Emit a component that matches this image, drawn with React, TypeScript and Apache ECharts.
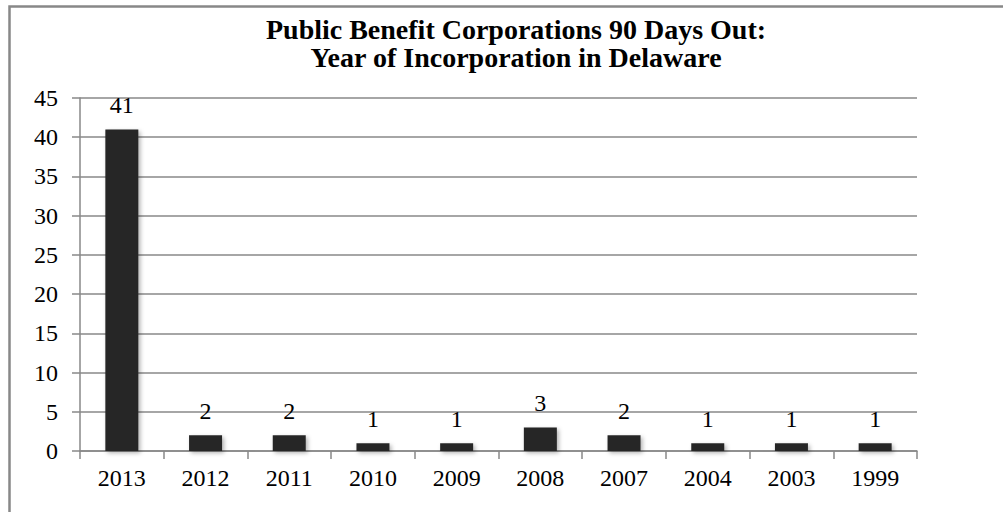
import React, { useEffect, useRef } from "react";
import * as echarts from "echarts";

const years = ["2013", "2012", "2011", "2010", "2009", "2008", "2007", "2004", "2003", "1999"];
const counts = [41, 2, 2, 1, 1, 3, 2, 1, 1, 1];
const titleLines = ["Public Benefit Corporations 90 Days Out:", "Year of Incorporation in Delaware"];

const FONT = "'Liberation Serif', 'Times New Roman', serif";

export default function App() {
  const ref = useRef<HTMLDivElement>(null);
  useEffect(() => {
    if (!ref.current) return;
    const chart = echarts.init(ref.current, null, { renderer: "svg" });
    chart.setOption({
      animation: false,
      backgroundColor: "#ffffff",
      title: {
        text: titleLines.join("\n"),
        left: 511,
        textAlign: "center",
        top: 10,
        textStyle: {
          fontFamily: FONT,
          fontWeight: "bold",
          fontSize: 28,
          lineHeight: 28,
          color: "#000000",
        },
      },
      graphic: [
        {
          type: "rect",
          shape: { x: 9.5, y: 6.5, width: 1100, height: 600 },
          style: { fill: "none", stroke: "#888888", lineWidth: 2.5 },
          silent: true,
        },
      ],
      grid: { left: 80, right: 86, top: 98, bottom: 61, containLabel: false },
      xAxis: {
        type: "category",
        data: years,
        boundaryGap: true,
        axisLine: { show: true, lineStyle: { color: "#888888", width: 1.5 } },
        axisTick: { show: true, length: 8, alignWithLabel: false, lineStyle: { color: "#888888", width: 1.5 } },
        axisLabel: { fontFamily: FONT, fontSize: 24, color: "#000000", margin: 15 },
      },
      yAxis: {
        type: "value",
        min: 0,
        max: 45,
        interval: 5,
        axisLine: { show: true, lineStyle: { color: "#888888", width: 1.5 } },
        axisTick: { show: true, length: 8, lineStyle: { color: "#888888", width: 1.5 } },
        axisLabel: { fontFamily: FONT, fontSize: 24, color: "#000000", margin: 22 },
        splitLine: { show: true, lineStyle: { color: "#888888", width: 1.5 } },
      },
      series: [
        {
          type: "bar",
          data: counts,
          barWidth: 33,
          itemStyle: {
            color: "#262626",
            shadowColor: "rgba(0,0,0,0.3)",
            shadowBlur: 4,
            shadowOffsetX: 2,
            shadowOffsetY: 2,
          },
          label: {
            show: true,
            position: "top",
            distance: 12,
            fontFamily: FONT,
            fontSize: 24,
            color: "#000000",
          },
        },
      ],
    });
    return () => chart.dispose();
  }, []);
  return (
    <div
      ref={ref}
      style={{ position: "fixed", left: 0, top: 0, width: 1003, height: 512 }}
    />
  );
}
